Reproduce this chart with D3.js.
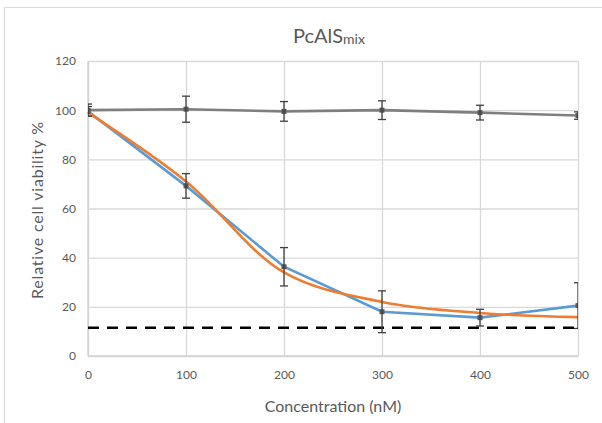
<!DOCTYPE html>
<html>
<head>
<meta charset="utf-8">
<script src="https://cdn.jsdelivr.net/npm/d3@7"></script>
<style>
  html, body { margin: 0; padding: 0; background: #fff; }
  svg { display: block; }
  text { font-family: Lato, "Open Sans", sans-serif; fill: #595959; }
</style>
</head>
<body>
<svg id="chart" width="602" height="423"></svg>
<script>
// ---- data ----
const concentrations = [0, 100, 200, 300, 400, 500];
const controlMean = [100, 100.4, 99.5, 100, 99, 97.8];
const controlErr = [2.5, 5.3, 4, 3.8, 3, 1.5];
const treatedMean = [99.5, 69.2, 36.3, 18, 15.6, 20.5];
const treatedErr = [2, 5, 7.8, 8.5, 3.4, 9.3];
const fitValues = [99, 71, 34, 22, 17.5, 15.8];
const thresholdValue = 11.5;
const xTicks = [0, 100, 200, 300, 400, 500];
const yTicks = [0, 20, 40, 60, 80, 100, 120];

(function () {
const svg = d3.select("#chart");
const W = 602, H = 423;
const pLeft = 88, pRight = 578, pTop = 61, pBottom = 356;

// frame
svg.append("line").attr("x1", 4.5).attr("x2", W).attr("y1", 7.5).attr("y2", 7.5)
  .attr("stroke", "#d9d9d9").attr("stroke-width", 1);
svg.append("line").attr("x1", 4.5).attr("x2", 4.5).attr("y1", 7.5).attr("y2", H)
  .attr("stroke", "#d9d9d9").attr("stroke-width", 1);

const x = d3.scaleLinear().domain([0, 500]).range([pLeft, pRight]);
const y = d3.scaleLinear().domain([0, 120]).range([pBottom, pTop]);

svg.append("defs").append("clipPath").attr("id", "plotclip")
  .append("rect").attr("x", pLeft).attr("y", pTop - 5).attr("width", pRight - pLeft).attr("height", pBottom - pTop + 10);

// gridlines
const gx = svg.append("g").attr("transform", `translate(0,${pBottom})`)
  .call(d3.axisBottom(x).tickValues(xTicks).tickSize(-(pBottom - pTop)).tickFormat(d3.format("d")).tickPadding(14));
gx.select(".domain").remove();
gx.selectAll(".tick line").attr("stroke", "#d9d9d9").attr("stroke-width", 1.3);
gx.selectAll(".tick text").attr("font-size", 12).style("fill", "#595959").attr("font-family", "Lato, sans-serif");

const gy = svg.append("g").attr("transform", `translate(${pLeft},0)`)
  .call(d3.axisLeft(y).tickValues(yTicks).tickSize(-(pRight - pLeft)).tickFormat(d3.format("d")).tickPadding(12));
gy.select(".domain").remove();
gy.selectAll(".tick line").attr("stroke", "#d9d9d9").attr("stroke-width", 1.3);
gy.selectAll(".tick text").attr("font-size", 12).style("fill", "#595959").attr("font-family", "Lato, sans-serif");

// axis base lines
svg.append("line").attr("x1", pLeft).attr("x2", pRight).attr("y1", pBottom).attr("y2", pBottom)
  .attr("stroke", "#d0d0d0").attr("stroke-width", 1.3);
svg.append("line").attr("x1", pLeft).attr("x2", pLeft).attr("y1", pTop).attr("y2", pBottom)
  .attr("stroke", "#d0d0d0").attr("stroke-width", 1.3);

// threshold dashed line
svg.append("line").attr("x1", x(0)).attr("x2", x(500))
  .attr("y1", y(thresholdValue)).attr("y2", y(thresholdValue))
  .attr("stroke", "#000").attr("stroke-width", 2.4).attr("stroke-dasharray", "11,8");

const plot = svg.append("g");

const lineGen = d3.line().x(d => x(d[0])).y(d => y(d[1]));

// control (gray)
plot.append("path").datum(concentrations.map((c, i) => [c, controlMean[i]]))
  .attr("d", lineGen).attr("fill", "none").attr("stroke", "#7f7f7f").attr("stroke-width", 2.6);

// treated (blue)
plot.append("path").datum(concentrations.map((c, i) => [c, treatedMean[i]]))
  .attr("d", lineGen).attr("fill", "none").attr("stroke", "#5b9bd5").attr("stroke-width", 2.6);

// fit (orange, smoothed)
plot.append("path").datum(concentrations.map((c, i) => [c, fitValues[i]]))
  .attr("d", d3.line().x(d => x(d[0])).y(d => y(d[1])).curve(d3.curveCatmullRom.alpha(0.5)))
  .attr("fill", "none").attr("stroke", "#ed7d31").attr("stroke-width", 2.6);

// markers
function markers(vals) {
  plot.append("g").attr("clip-path", "url(#plotclip)").selectAll("rect")
    .data(concentrations.map((c, i) => [c, vals[i]])).join("rect")
    .attr("x", d => x(d[0]) - 2.5).attr("y", d => y(d[1]) - 2.5)
    .attr("width", 5).attr("height", 5).attr("fill", "#595959");
}
markers(controlMean);
markers(treatedMean);

// error bars
function errorBars(means, errs) {
  const g = plot.append("g").attr("clip-path", "url(#plotclip)")
    .attr("stroke", "#404040").attr("stroke-width", 1.3).attr("fill", "none");
  concentrations.forEach((c, i) => {
    const cx = x(c), y1 = y(means[i] + errs[i]), y2 = y(means[i] - errs[i]);
    g.append("line").attr("x1", cx).attr("x2", cx).attr("y1", y1).attr("y2", y2);
    g.append("line").attr("x1", cx - 4).attr("x2", cx + 4).attr("y1", y1).attr("y2", y1);
    g.append("line").attr("x1", cx - 4).attr("x2", cx + 4).attr("y1", y2).attr("y2", y2);
  });
}
errorBars(controlMean, controlErr);
errorBars(treatedMean, treatedErr);

// title
const title = svg.append("text").attr("x", 329).attr("y", 43).attr("text-anchor", "middle");
title.append("tspan").attr("font-size", 20).text("PcAlS");
title.append("tspan").attr("font-size", 14).attr("dy", 1).text("mix");

// axis titles
svg.append("text").attr("x", 333).attr("y", 412).attr("text-anchor", "middle")
  .attr("font-size", 16).text("Concentration (nM)");
svg.append("text").attr("transform", "translate(43,210) rotate(-90)").attr("text-anchor", "middle")
  .attr("font-size", 16).attr("letter-spacing", 0.8).text("Relative cell viability %");
})();
</script>
</body>
</html>
